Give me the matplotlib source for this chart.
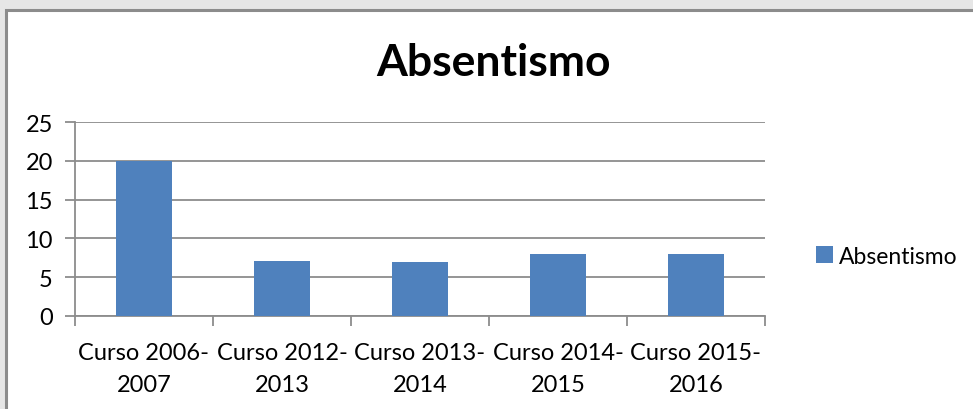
import matplotlib.pyplot as plt
from matplotlib.patches import Rectangle

# datos
cursos = ["Curso 2006-\n2007", "Curso 2012-\n2013", "Curso 2013-\n2014",
          "Curso 2014-\n2015", "Curso 2015-\n2016"]
absentismo = [20, 7.1, 7, 8, 8]
ticks_y = [0, 5, 10, 15, 20, 25]

plt.rcParams['font.family'] = ['Lato', 'DejaVu Sans']

W, H = 973, 410
fig = plt.figure(figsize=(W / 100, H / 100), dpi=100, facecolor="#e6e6e6")

# recuadro blanco del grafico
fig.patches.append(Rectangle((6 / W, -0.1), 1, 1.1 - 11 / H, transform=fig.transFigure,
                             facecolor="white", edgecolor="#8c8c8c", linewidth=2.2,
                             zorder=-1))

ax = fig.add_axes([75 / W, 93 / H, 690 / W, 194 / H])
ax.set_facecolor("none")

x = range(len(cursos))
barras = ax.bar(x, absentismo, width=0.4, color="#4f81bd", label="Absentismo", zorder=3)

ax.set_xlim(-0.5, len(cursos) - 0.5)
ax.set_ylim(0, 25)
ax.set_yticks(ticks_y)
ax.yaxis.grid(True, color="#8c8c8c", linewidth=1.3, zorder=1)

# ticks x en los limites de categoria
ax.set_xticks([i - 0.5 for i in range(len(cursos) + 1)], minor=False)
ax.set_xticklabels([])
ax.set_xticks(list(x), minor=True)
ax.set_xticklabels(cursos, minor=True, fontsize=17, linespacing=1.6)
ax.tick_params(axis="x", which="major", length=7, color="#8c8c8c", width=1.3)
ax.tick_params(axis="x", which="minor", length=0, pad=19)
ax.tick_params(axis="y", length=7, color="#8c8c8c", width=1.3, labelsize=17, pad=9)

for s in ["top", "right"]:
    ax.spines[s].set_visible(False)
for s in ["left", "bottom"]:
    ax.spines[s].set_color("#8c8c8c")
    ax.spines[s].set_linewidth(1.3)

fig.text(493 / W, 1 - 63 / H, "Absentismo", ha="center", va="center",
         fontsize=32, fontweight="bold")

ax.legend(handles=[barras], loc="center left", bbox_to_anchor=(805 / W, 1 - 257 / H),
          bbox_transform=fig.transFigure, frameon=False, fontsize=16.5,
          handlelength=0.7, handleheight=0.7, handletextpad=0.3, borderpad=0)

fig.savefig("out.png", dpi=100, facecolor=fig.get_facecolor())
